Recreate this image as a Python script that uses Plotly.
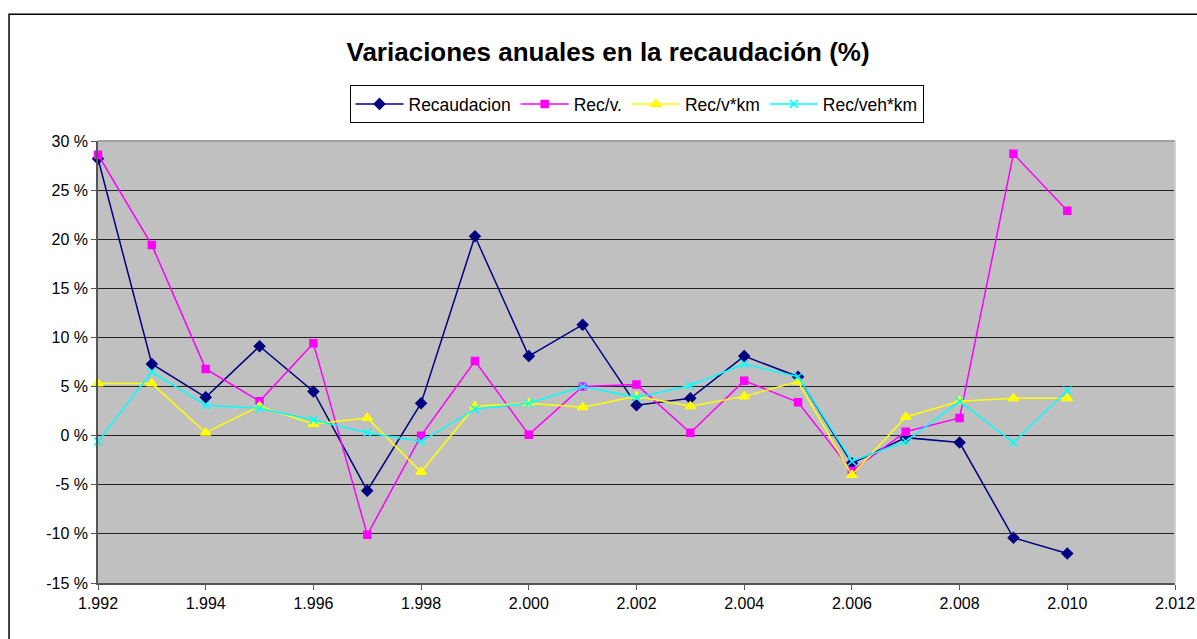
import plotly.graph_objects as go

years = list(range(1992, 2011))
recaudacion = [28.2, 7.3, 3.9, 9.1, 4.5, -5.6, 3.3, 20.3, 8.1, 11.3, 3.1, 3.8, 8.1, 6.0, -2.8, -0.2, -0.7, -10.4, -12.0]
rec_v = [28.6, 19.4, 6.8, 3.5, 9.4, -10.1, 0.0, 7.6, 0.1, 5.0, 5.2, 0.3, 5.6, 3.4, -3.6, 0.4, 1.8, 28.7, 22.9]
rec_vkm = [5.3, 5.3, 0.3, 3.0, 1.2, 1.8, -3.7, 3.0, 3.3, 2.9, 4.0, 3.0, 4.0, 5.5, -4.0, 1.9, 3.5, 3.8, 3.8]
rec_vehkm = [-0.6, 6.5, 3.1, 2.8, 1.6, 0.3, -0.6, 2.7, 3.3, 5.0, 3.9, 5.1, 7.3, 6.0, -2.6, -0.6, 3.5, -0.7, 4.6]

x_ticks = list(range(1992, 2013, 2))
x_ticktext = [f"{y // 1000}.{y % 1000:03d}" for y in x_ticks]
y_ticks = list(range(-15, 31, 5))
y_ticktext = [f"{v} %" for v in y_ticks]

series = [
    ("Recaudacion", recaudacion, "#000080", "diamond", 8),
    ("Rec/v.", rec_v, "#FF00FF", "square", 7),
    ("Rec/v*km", rec_vkm, "#FFFF00", "triangle-up", 9),
    ("Rec/veh*km", rec_vehkm, "#00FFFF", "x-thin", 8),
]

fig = go.Figure()
for name, vals, color, sym, size in series:
    fig.add_trace(go.Scatter(
        x=years, y=vals, name=name, mode="lines+markers",
        line=dict(color=color, width=1.5),
        marker=dict(symbol=sym, size=size, color=color,
                    line=dict(color=color, width=1.5)),
        cliponaxis=False,
    ))

fig.update_layout(
    width=1197, height=639,
    margin=dict(l=98, r=22, t=141, b=56, autoexpand=False),
    paper_bgcolor="white",
    plot_bgcolor="#C0C0C0",
    font=dict(family="Liberation Sans, Arial, sans-serif", size=16, color="black"),
    title=dict(text="<b>Variaciones anuales en la recaudación (%)</b>",
               x=0.508, xanchor="center", y=0.9186, yanchor="middle",
               font=dict(size=26, color="black")),
    legend=dict(orientation="h", x=0.5, xanchor="center", y=1.0837, yanchor="middle",
                bordercolor="black", borderwidth=1, bgcolor="white",
                font=dict(size=17.5), itemwidth=48),
    xaxis=dict(range=[1992, 2012], tickvals=x_ticks, ticktext=x_ticktext,
               showgrid=False, zeroline=False, showline=True, linecolor="#555555",
               linewidth=1.5, ticks="outside", ticklen=5, tickcolor="#555555",
               automargin=False),
    yaxis=dict(range=[-15, 30], tickvals=y_ticks, ticktext=y_ticktext,
               showgrid=True, gridcolor="#222222", gridwidth=1, zeroline=False,
               showline=True, linecolor="#555555", linewidth=1.5,
               ticks="outside", ticklen=5, tickcolor="#555555", automargin=False),
)

# plot area top/right border
fig.add_shape(type="line", xref="paper", yref="paper", x0=0, x1=1, y0=1, y1=1,
              line=dict(color="#A0A0A0", width=2))
fig.add_shape(type="line", xref="paper", yref="paper", x0=1, x1=1, y0=0, y1=1,
              line=dict(color="#D0D0D0", width=2))
# outer chart border
fig.add_shape(type="rect", xref="paper", yref="paper",
              x0=-0.0826, x1=1.05, y0=-0.25, y1=1.287,
              line=dict(color="black", width=1.5), fillcolor="rgba(0,0,0,0)", layer="above")

fig.write_html("out.html", config={"displayModeBar": False},
               post_script="document.body.style.margin='0';document.body.style.overflow='hidden';")
